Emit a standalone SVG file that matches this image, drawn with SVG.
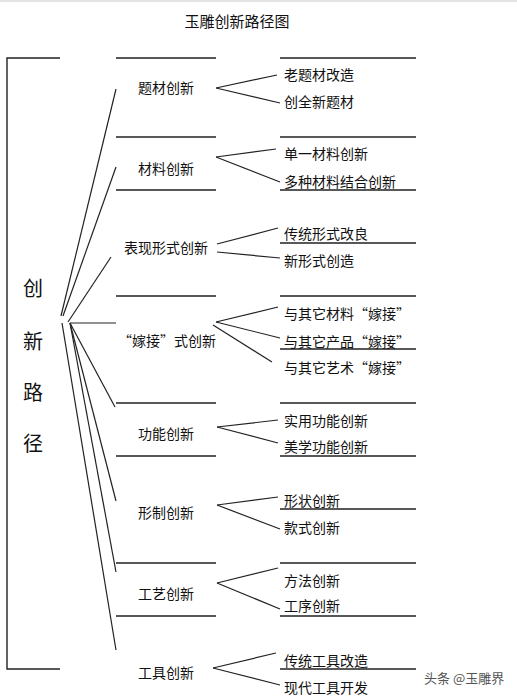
<svg xmlns="http://www.w3.org/2000/svg" width="517" height="696" viewBox="0 0 517 696">
<style>
text{font-family:"Noto Sans CJK SC","Noto Sans",sans-serif;fill:#111;dominant-baseline:central}
.l{font-size:14px;text-anchor:middle}
.r{font-size:14px}
.v{font-size:20px;text-anchor:middle}
.t{font-size:15px;text-anchor:middle}
.rule{stroke:#222;stroke-width:1.4;fill:none}
#connectors line{stroke:#222;stroke-width:1.2}
</style>
<rect width="517" height="696" fill="#fff"/>
<rect width="517" height="2" fill="#e4e4e4"/>
<text class="t" x="237" y="20">玉雕创新路径图</text>

<g id="root">
<path class="rule" d="M60,58H7V669H60"/>
<text class="v" x="33" y="287">创</text>
<text class="v" x="33" y="340">新</text>
<text class="v" x="33" y="391">路</text>
<text class="v" x="33" y="442">径</text>
</g>

<g id="rules">
<path class="rule" d="M116,58H216M116,137H216M116,190H216M116,296H216M116,403H216M116,456H216M116,563H216M116,616H216"/>
<path class="rule" d="M280,58H416M280,137H416M280,190H416M280,243H416M280,296H416M280,349H416M280,403H416M280,456H416M280,509H416M280,563H416M280,616H416M280,669H416"/>
</g>

<g id="n1"><text class="l" x="166" y="87">题材创新</text><text class="r" x="284" y="74">老题材改造</text><text class="r" x="284" y="101">创全新题材</text></g>
<g id="n2"><text class="l" x="166" y="168">材料创新</text><text class="r" x="284" y="153">单一材料创新</text><text class="r" x="284" y="181">多种材料结合创新</text></g>
<g id="n3"><text class="l" x="166" y="247">表现形式创新</text><text class="r" x="284" y="233">传统形式改良</text><text class="r" x="284" y="260">新形式创造</text></g>
<g id="n4"><text class="l" x="167" y="340">“嫁接”式创新</text><text class="r" x="284" y="313">与其它材料“嫁接”</text><text class="r" x="284" y="341">与其它产品“嫁接”</text><text class="r" x="284" y="367">与其它艺术“嫁接”</text></g>
<g id="n5"><text class="l" x="166" y="433">功能创新</text><text class="r" x="284" y="420">实用功能创新</text><text class="r" x="284" y="446">美学功能创新</text></g>
<g id="n6"><text class="l" x="166" y="512">形制创新</text><text class="r" x="284" y="500">形状创新</text><text class="r" x="284" y="527">款式创新</text></g>
<g id="n7"><text class="l" x="166" y="593">工艺创新</text><text class="r" x="284" y="580">方法创新</text><text class="r" x="284" y="605">工序创新</text></g>
<g id="n8"><text class="l" x="166" y="672">工具创新</text><text class="r" x="284" y="660">传统工具改造</text><text class="r" x="284" y="687">现代工具开发</text></g>

<g id="connectors">
<line x1="61" y1="316" x2="116" y2="89"/>
<line x1="63" y1="316" x2="116" y2="167"/>
<line x1="68" y1="322" x2="111" y2="257"/>
<line x1="70" y1="323" x2="116" y2="323"/>
<line x1="70" y1="323" x2="115" y2="407"/>
<line x1="70" y1="323" x2="116" y2="501"/>
<line x1="70" y1="323" x2="116" y2="572"/>
<line x1="62" y1="323" x2="116" y2="650"/>

<line x1="216" y1="88" x2="277" y2="75"/>
<line x1="216" y1="88" x2="280" y2="103"/>
<line x1="216" y1="157" x2="276" y2="149"/>
<line x1="216" y1="157" x2="280" y2="182"/>
<line x1="217" y1="244" x2="278" y2="228"/>
<line x1="217" y1="252" x2="280" y2="258"/>
<line x1="216" y1="322" x2="278" y2="307"/>
<line x1="216" y1="322" x2="280" y2="338"/>
<line x1="213" y1="325" x2="272" y2="362"/>
<line x1="217" y1="427" x2="278" y2="420"/>
<line x1="217" y1="427" x2="278" y2="443"/>
<line x1="217" y1="505" x2="278" y2="497"/>
<line x1="217" y1="505" x2="280" y2="529"/>
<line x1="217" y1="583" x2="278" y2="568"/>
<line x1="217" y1="583" x2="280" y2="609"/>
<line x1="213" y1="668" x2="276" y2="653"/>
<line x1="213" y1="668" x2="280" y2="685"/>
</g>

<text x="424" y="677" style="font-size:13px;fill:#555">头条 @玉雕界</text>
</svg>
